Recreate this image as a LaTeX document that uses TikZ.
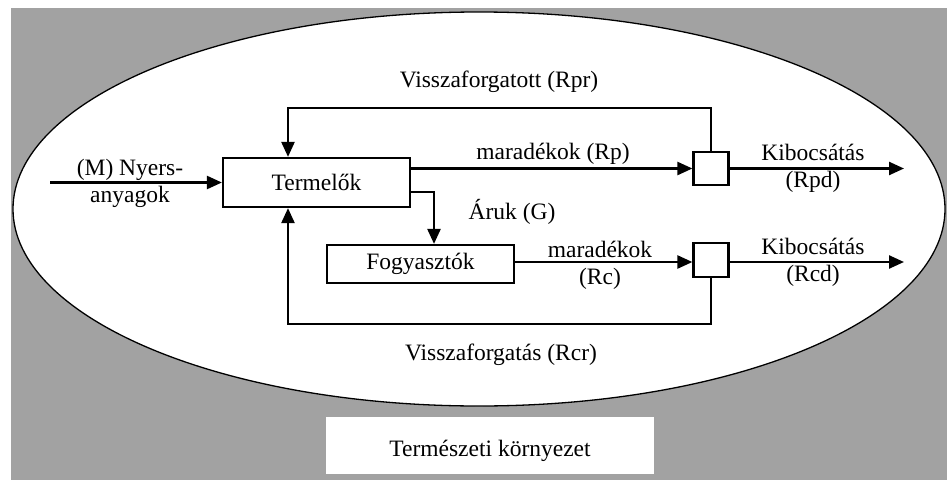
\documentclass[tikz,border=0pt]{standalone}
\usepackage{fontspec}
\setmainfont{Liberation Serif}
\usetikzlibrary{arrows.meta,positioning,calc}
\definecolor{envgray}{HTML}{A2A2A2}
\tikzset{box/.style={draw,line width=2.2pt,fill=white,inner sep=0pt},
  arrow/.style={-{Triangle[length=15pt,width=13pt]},line width=2.4pt},
  lbl/.style={align=center,inner sep=0pt}}

\begin{document}
\begin{tikzpicture}[x=1pt,y=-1pt,font=\fontsize{23.5}{27}\selectfont]
\useasboundingbox (0,0) rectangle (947,482);
\fill[envgray] (11,8) rectangle (947,480);
\draw[line width=1.3pt,fill=white] (479,209) ellipse [x radius=466,y radius=197];
% blocks
\node[box,minimum width=187,minimum height=49] (prod) at (316.5,182.5) {Termelők};
\node[box,minimum width=187,minimum height=38] (cons) at (420.5,264) {Fogyasztók};
\node[box,minimum width=35,minimum height=33] (sepp) at (711,168.5) {};
\node[box,minimum width=35,minimum height=34] (sepc) at (711,260) {};
\node[box,draw=none,minimum width=328,minimum height=57] (env) at (490,445.5) {};
\node[lbl] at (490,451) {Természeti környezet};
\coordinate (src) at (50,182.5);
\coordinate (outp) at (904,168.5);
\coordinate (outc) at (904,262);
\coordinate (looptop) at (288,108);
\coordinate (loopbot) at (288,324);
% flows
\draw[arrow] (src) -- (prod.west);
\draw[arrow] ([yshift=14pt]prod.east) -- (sepp.west);
\draw[arrow] ([yshift=-9.5pt]prod.east) -| ([xshift=13.5pt]cons.north);
\draw[arrow] (cons.east |- outc) -- (sepc.west |- outc);
\draw[arrow] (sepp.east) -- (outp);
\draw[arrow] (sepc.east |- outc) -- (outc);
\draw[arrow] (sepp.north) |- (looptop) -- (looptop |- prod.north);
\draw[arrow] (sepc.south) |- (loopbot) -- (loopbot |- prod.south);
% labels
\node[lbl] at (130,183) {(M) Nyers-\\anyagok};
\node[lbl] at (499,82) {Visszaforgatott (Rpr)};
\node[lbl] at (553,154) {maradékok (Rp)};
\node[lbl] at (813,168.5) {Kibocsátás\\(Rpd)};
\node[lbl] at (512,212) {Áruk (G)};
\node[lbl] at (600,265) {maradékok\\(Rc)};
\node[lbl] at (813,262) {Kibocsátás\\(Rcd)};
\node[lbl] at (501,355) {Visszaforgatás (Rcr)};
\end{tikzpicture}
\end{document}
